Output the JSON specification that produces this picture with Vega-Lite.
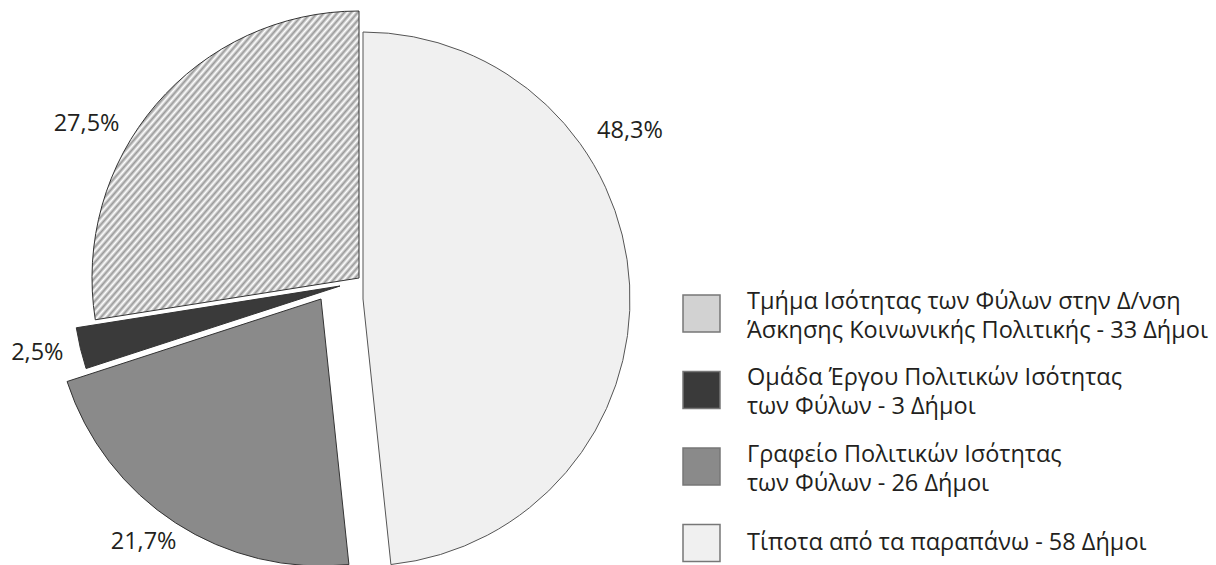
{
  "$schema": "https://vega.github.io/schema/vega-lite/v6.json",
  "width": 1216,
  "height": 565,
  "autosize": {"type": "none"},
  "padding": 0,
  "background": "white",
  "config": {"view": {"stroke": null}, "font": "Open Sans"},
  "data": {"values": [
    {"cat": "Τίποτα από τα παραπάνω - 58 Δήμοι", "n": 58, "ord": 1, "pct": "48,3%"},
    {"cat": "Γραφείο Πολιτικών Ισότητας|των Φύλων - 26 Δήμοι", "n": 26, "ord": 2, "pct": "21,7%"},
    {"cat": "Ομάδα Έργου Πολιτικών Ισότητας|των Φύλων - 3 Δήμοι", "n": 3, "ord": 3, "pct": "2,5%"},
    {"cat": "Τμήμα Ισότητας των Φύλων στην Δ/νση|Άσκησης Κοινωνικής Πολιτικής - 33 Δήμοι", "n": 33, "ord": 4, "pct": "27,5%"}
  ]},
  "transform": [
    {"stack": "n", "groupby": [], "sort": [{"field": "ord", "order": "ascending"}], "as": ["t0", "t1"]}
  ],
  "encoding": {
    "theta": {"field": "t0", "type": "quantitative", "stack": null, "scale": {"domain": [0, 120]}}
  },
  "layer": [
    {
      "transform": [{"filter": "datum.ord == 1"}],
      "mark": {"type": "arc", "outerRadius": 267, "xOffset": -245, "yOffset": 16.5, "stroke": "#555", "strokeWidth": 1},
      "encoding": {
        "theta2": {"field": "t1"},
        "color": {"field": "cat", "type": "nominal",
          "scale": {"domain": ["Τμήμα Ισότητας των Φύλων στην Δ/νση|Άσκησης Κοινωνικής Πολιτικής - 33 Δήμοι", "Ομάδα Έργου Πολιτικών Ισότητας|των Φύλων - 3 Δήμοι", "Γραφείο Πολιτικών Ισότητας|των Φύλων - 26 Δήμοι", "Τίποτα από τα παραπάνω - 58 Δήμοι"], "range": ["#d2d2d2", "#3a3a3a", "#8a8a8a", "#f0f0f0"]},
          "legend": {"title": null, "orient": "none", "legendX": 682, "legendY": 294, "symbolType": "square", "symbolSize": 1369, "symbolStrokeWidth": 1.5, "symbolStrokeColor": "#777", "symbolOpacity": 1, "labelExpr": "split(datum.label, '|')", "labelFont": "Open Sans", "labelFontSize": 23.5, "labelColor": "#231f20", "labelLimit": 800, "labelOffset": 26, "rowPadding": 23.5, "gridAlign": "all",
            "encode": {
              "labels": {"update": {"lineHeight": {"value": 29}, "dy": {"signal": "indexof(datum.label, '|') >= 0 ? -12 : 0"}}}
            }}
        }
      }
    },
    {
      "transform": [{"filter": "datum.ord == 2"}],
      "mark": {"type": "arc", "outerRadius": 267, "xOffset": -287, "yOffset": 16.5, "stroke": "#333", "strokeWidth": 1},
      "encoding": {"theta2": {"field": "t1"}, "color": {"field": "cat", "type": "nominal"}}
    },
    {
      "transform": [{"filter": "datum.ord == 3"}],
      "mark": {"type": "arc", "outerRadius": 267, "xOffset": -268, "yOffset": 3.5, "stroke": "#333", "strokeWidth": 1},
      "encoding": {"theta2": {"field": "t1"}, "color": {"field": "cat", "type": "nominal"}}
    },
    {
      "transform": [{"filter": "datum.ord == 4"}],
      "mark": {"type": "arc", "outerRadius": 267, "xOffset": -249, "yOffset": -4.5, "stroke": "#333", "strokeWidth": 1,
        "fill": {"gradient": "linear", "x1": 0, "y1": 0, "x2": 1, "y2": 1, "stops": [
          {"offset": 0, "color": "#999"}, {"offset": 0.00625, "color": "#fff"}, {"offset": 0.0125, "color": "#999"}, {"offset": 0.01875, "color": "#fff"},
          {"offset": 0.025, "color": "#999"}, {"offset": 0.03125, "color": "#fff"}, {"offset": 0.0375, "color": "#999"}, {"offset": 0.04375, "color": "#fff"},
          {"offset": 0.05, "color": "#999"}, {"offset": 0.05625, "color": "#fff"}, {"offset": 0.0625, "color": "#999"}, {"offset": 0.06875, "color": "#fff"},
          {"offset": 0.075, "color": "#999"}, {"offset": 0.08125, "color": "#fff"}, {"offset": 0.0875, "color": "#999"}, {"offset": 0.09375, "color": "#fff"},
          {"offset": 0.1, "color": "#999"}, {"offset": 0.10625, "color": "#fff"}, {"offset": 0.1125, "color": "#999"}, {"offset": 0.11875, "color": "#fff"},
          {"offset": 0.125, "color": "#999"}, {"offset": 0.13125, "color": "#fff"}, {"offset": 0.1375, "color": "#999"}, {"offset": 0.14375, "color": "#fff"},
          {"offset": 0.15, "color": "#999"}, {"offset": 0.15625, "color": "#fff"}, {"offset": 0.1625, "color": "#999"}, {"offset": 0.16875, "color": "#fff"},
          {"offset": 0.175, "color": "#999"}, {"offset": 0.18125, "color": "#fff"}, {"offset": 0.1875, "color": "#999"}, {"offset": 0.19375, "color": "#fff"},
          {"offset": 0.2, "color": "#999"}, {"offset": 0.20625, "color": "#fff"}, {"offset": 0.2125, "color": "#999"}, {"offset": 0.21875, "color": "#fff"},
          {"offset": 0.225, "color": "#999"}, {"offset": 0.23125, "color": "#fff"}, {"offset": 0.2375, "color": "#999"}, {"offset": 0.24375, "color": "#fff"},
          {"offset": 0.25, "color": "#999"}, {"offset": 0.25625, "color": "#fff"}, {"offset": 0.2625, "color": "#999"}, {"offset": 0.26875, "color": "#fff"},
          {"offset": 0.275, "color": "#999"}, {"offset": 0.28125, "color": "#fff"}, {"offset": 0.2875, "color": "#999"}, {"offset": 0.29375, "color": "#fff"},
          {"offset": 0.3, "color": "#999"}, {"offset": 0.30625, "color": "#fff"}, {"offset": 0.3125, "color": "#999"}, {"offset": 0.31875, "color": "#fff"},
          {"offset": 0.325, "color": "#999"}, {"offset": 0.33125, "color": "#fff"}, {"offset": 0.3375, "color": "#999"}, {"offset": 0.34375, "color": "#fff"},
          {"offset": 0.35, "color": "#999"}, {"offset": 0.35625, "color": "#fff"}, {"offset": 0.3625, "color": "#999"}, {"offset": 0.36875, "color": "#fff"},
          {"offset": 0.375, "color": "#999"}, {"offset": 0.38125, "color": "#fff"}, {"offset": 0.3875, "color": "#999"}, {"offset": 0.39375, "color": "#fff"},
          {"offset": 0.4, "color": "#999"}, {"offset": 0.40625, "color": "#fff"}, {"offset": 0.4125, "color": "#999"}, {"offset": 0.41875, "color": "#fff"},
          {"offset": 0.425, "color": "#999"}, {"offset": 0.43125, "color": "#fff"}, {"offset": 0.4375, "color": "#999"}, {"offset": 0.44375, "color": "#fff"},
          {"offset": 0.45, "color": "#999"}, {"offset": 0.45625, "color": "#fff"}, {"offset": 0.4625, "color": "#999"}, {"offset": 0.46875, "color": "#fff"},
          {"offset": 0.475, "color": "#999"}, {"offset": 0.48125, "color": "#fff"}, {"offset": 0.4875, "color": "#999"}, {"offset": 0.49375, "color": "#fff"},
          {"offset": 0.5, "color": "#999"}, {"offset": 0.50625, "color": "#fff"}, {"offset": 0.5125, "color": "#999"}, {"offset": 0.51875, "color": "#fff"},
          {"offset": 0.525, "color": "#999"}, {"offset": 0.53125, "color": "#fff"}, {"offset": 0.5375, "color": "#999"}, {"offset": 0.54375, "color": "#fff"},
          {"offset": 0.55, "color": "#999"}, {"offset": 0.55625, "color": "#fff"}, {"offset": 0.5625, "color": "#999"}, {"offset": 0.56875, "color": "#fff"},
          {"offset": 0.575, "color": "#999"}, {"offset": 0.58125, "color": "#fff"}, {"offset": 0.5875, "color": "#999"}, {"offset": 0.59375, "color": "#fff"},
          {"offset": 0.6, "color": "#999"}, {"offset": 0.60625, "color": "#fff"}, {"offset": 0.6125, "color": "#999"}, {"offset": 0.61875, "color": "#fff"},
          {"offset": 0.625, "color": "#999"}, {"offset": 0.63125, "color": "#fff"}, {"offset": 0.6375, "color": "#999"}, {"offset": 0.64375, "color": "#fff"},
          {"offset": 0.65, "color": "#999"}, {"offset": 0.65625, "color": "#fff"}, {"offset": 0.6625, "color": "#999"}, {"offset": 0.66875, "color": "#fff"},
          {"offset": 0.675, "color": "#999"}, {"offset": 0.68125, "color": "#fff"}, {"offset": 0.6875, "color": "#999"}, {"offset": 0.69375, "color": "#fff"},
          {"offset": 0.7, "color": "#999"}, {"offset": 0.70625, "color": "#fff"}, {"offset": 0.7125, "color": "#999"}, {"offset": 0.71875, "color": "#fff"},
          {"offset": 0.725, "color": "#999"}, {"offset": 0.73125, "color": "#fff"}, {"offset": 0.7375, "color": "#999"}, {"offset": 0.74375, "color": "#fff"},
          {"offset": 0.75, "color": "#999"}, {"offset": 0.75625, "color": "#fff"}, {"offset": 0.7625, "color": "#999"}, {"offset": 0.76875, "color": "#fff"},
          {"offset": 0.775, "color": "#999"}, {"offset": 0.78125, "color": "#fff"}, {"offset": 0.7875, "color": "#999"}, {"offset": 0.79375, "color": "#fff"},
          {"offset": 0.8, "color": "#999"}, {"offset": 0.80625, "color": "#fff"}, {"offset": 0.8125, "color": "#999"}, {"offset": 0.81875, "color": "#fff"},
          {"offset": 0.825, "color": "#999"}, {"offset": 0.83125, "color": "#fff"}, {"offset": 0.8375, "color": "#999"}, {"offset": 0.84375, "color": "#fff"},
          {"offset": 0.85, "color": "#999"}, {"offset": 0.85625, "color": "#fff"}, {"offset": 0.8625, "color": "#999"}, {"offset": 0.86875, "color": "#fff"},
          {"offset": 0.875, "color": "#999"}, {"offset": 0.88125, "color": "#fff"}, {"offset": 0.8875, "color": "#999"}, {"offset": 0.89375, "color": "#fff"},
          {"offset": 0.9, "color": "#999"}, {"offset": 0.90625, "color": "#fff"}, {"offset": 0.9125, "color": "#999"}, {"offset": 0.91875, "color": "#fff"},
          {"offset": 0.925, "color": "#999"}, {"offset": 0.93125, "color": "#fff"}, {"offset": 0.9375, "color": "#999"}, {"offset": 0.94375, "color": "#fff"},
          {"offset": 0.95, "color": "#999"}, {"offset": 0.95625, "color": "#fff"}, {"offset": 0.9625, "color": "#999"}, {"offset": 0.96875, "color": "#fff"},
          {"offset": 0.975, "color": "#999"}, {"offset": 0.98125, "color": "#fff"}, {"offset": 0.9875, "color": "#999"}, {"offset": 0.99375, "color": "#fff"},
          {"offset": 1, "color": "#999"}
        ]}},
      "encoding": {"theta2": {"field": "t1"}}
    },
    {
      "transform": [{"filter": "datum.ord == 1"}],
      "mark": {"type": "text", "radius": 315.5, "thetaOffset": 1.009, "xOffset": -245, "yOffset": 16.5, "fontSize": 23.5, "font": "Open Sans", "color": "#231f20", "align": "center", "baseline": "middle"},
      "encoding": {"text": {"field": "pct"}}
    },
    {
      "transform": [{"filter": "datum.ord == 2"}],
      "mark": {"type": "text", "radius": 301, "thetaOffset": 0.735, "xOffset": -287, "yOffset": 16.5, "fontSize": 23.5, "font": "Open Sans", "color": "#231f20", "align": "center", "baseline": "middle"},
      "encoding": {"text": {"field": "pct"}}
    },
    {
      "transform": [{"filter": "datum.ord == 3"}],
      "mark": {"type": "text", "radius": 310, "thetaOffset": 0.096, "xOffset": -268, "yOffset": 3.5, "fontSize": 23.5, "font": "Open Sans", "color": "#231f20", "align": "center", "baseline": "middle"},
      "encoding": {"text": {"field": "pct"}}
    },
    {
      "transform": [{"filter": "datum.ord == 4"}],
      "mark": {"type": "text", "radius": 313, "thetaOffset": 0.672, "xOffset": -249, "yOffset": -4.5, "fontSize": 23.5, "font": "Open Sans", "color": "#231f20", "align": "center", "baseline": "middle"},
      "encoding": {"text": {"field": "pct"}}
    }
  ]
}
